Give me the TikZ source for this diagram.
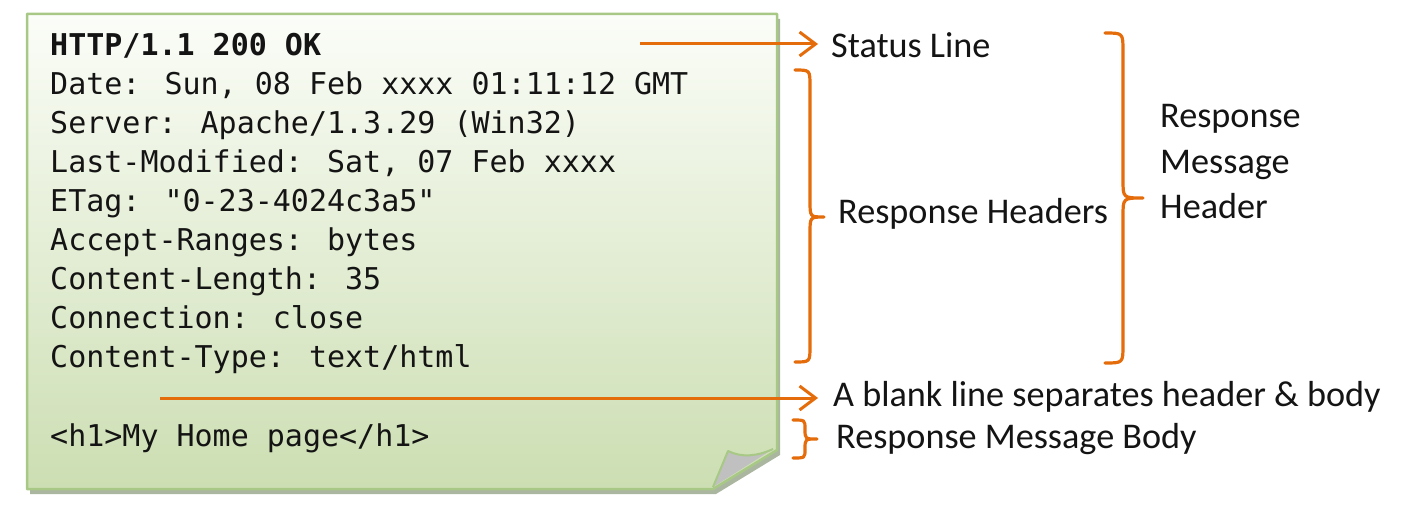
\documentclass[tikz,border=0pt]{standalone}
\usepackage{fontspec}
\setmainfont{Carlito}
\newfontfamily\monof{DejaVu Sans Mono}
\usetikzlibrary{arrows.meta}
\definecolor{orng}{RGB}{228,108,10}
\definecolor{notetop}{RGB}{251,253,248}
\definecolor{notemid}{RGB}{226,237,210}
\definecolor{notebot}{RGB}{204,222,178}
\definecolor{noteedge}{RGB}{168,200,134}
\definecolor{noteshadow}{RGB}{150,164,138}
\definecolor{flapgray}{RGB}{192,192,192}
\definecolor{txt}{RGB}{20,20,20}
\begin{document}
\begin{tikzpicture}[x=1pt,y=-1pt,
  mono/.style={font=\monof\fontsize{30}{35}\selectfont, anchor=base west, inner sep=0pt, text=txt},
  monob/.style={mono, font=\monof\bfseries\fontsize{30}{35}\selectfont},
  lbl/.style={font=\fontsize{36.2}{40}\selectfont, anchor=base west, inner sep=0pt, text=txt},
  arr/.style={draw=orng, line width=3pt, -{Straight Barb[length=16pt,width=24pt,line width=3pt]}},
  brc/.style={draw=orng, line width=3.2pt, line cap=round, line join=round}]
\useasboundingbox (0,0) rectangle (1420,516);

% shadow
\begin{scope}[shift={(3,5)}]
\fill[noteshadow, opacity=0.8] (27,14) -- (777,14) -- (777,450) -- (713,489) -- (27,489) -- cycle;
\end{scope}
% note body
\shade[top color=notetop, middle color=notemid, bottom color=notebot]
  (27,14) -- (777,14) -- (777,450) -- (713,489) -- (27,489) -- cycle;
\draw[noteedge, line width=2.5pt, line join=round]
  (27,14) -- (777,14) -- (777,450) -- (713,489) -- (27,489) -- cycle;
% curled flap
\fill[flapgray] (713,487) -- (728,451) .. controls (742,458) and (758,456) .. (773,449) -- cycle;
\draw[noteedge, line width=2pt, line join=round] (713,487) -- (728,451) .. controls (742,458) and (758,456) .. (773,449);

% message text
\node[monob] (l0) at (50,56) {HTTP/1.1 200 OK};
\node[mono] (l1) at (50,94.9) {Date: Sun, 08 Feb xxxx 01:11:12 GMT};
\node[mono] (l2) at (50,133.8) {Server: Apache/1.3.29 (Win32)};
\node[mono] (l3) at (50,172.7) {Last-Modified: Sat, 07 Feb xxxx};
\node[mono] (l4) at (50,211.6) {ETag: "0-23-4024c3a5"};
\node[mono] (l5) at (50,250.5) {Accept-Ranges: bytes};
\node[mono] (l6) at (50,289.4) {Content-Length: 35};
\node[mono] (l7) at (50,328.3) {Connection: close};
\node[mono] (l8) at (50,367.2) {Content-Type: text/html};
\node[mono] (l9) at (50,446) {<h1>My Home page</h1>};

% labels
\node[lbl] (status) at (831,58) {Status Line};
\node[lbl] (hdrs) at (838,223) {Response Headers};
\node[lbl] (rm1) at (1160,128) {Response};
\node[lbl] (rm2) at (1160,173) {Message};
\node[lbl] (rm3) at (1160,218) {Header};
\node[lbl] (blank) at (833,406) {A blank line separates header \& body};
\node[lbl] (body) at (836,448) {Response Message Body};

% arrows
\coordinate (a1s) at (640,44);
\coordinate (a1e) at (818,44);
\coordinate (a2s) at (160,398);
\coordinate (a2e) at (818,398);
\draw[arr] (a1s) -- (a1e);
\draw[arr] (a2s) -- (a2e);

% braces
\draw[brc] (795,70) .. controls (810,70) .. (810,86) -- (810,201)
  .. controls (810,217) .. (824,217) .. controls (810,217) .. (810,233)
  -- (810,346) .. controls (810,362) .. (795,362);
\draw[brc] (1105,33) .. controls (1123,33) .. (1123,51) -- (1123,180)
  .. controls (1123,198) .. (1143,198) .. controls (1123,198) .. (1123,216)
  -- (1123,345) .. controls (1123,363) .. (1105,363);
\draw[brc] (793,420) .. controls (805,420) .. (805,429)
  .. controls (805,439) .. (817,439) .. controls (805,439) .. (805,449)
  .. controls (805,458) .. (793,458);
\end{tikzpicture}
\end{document}
